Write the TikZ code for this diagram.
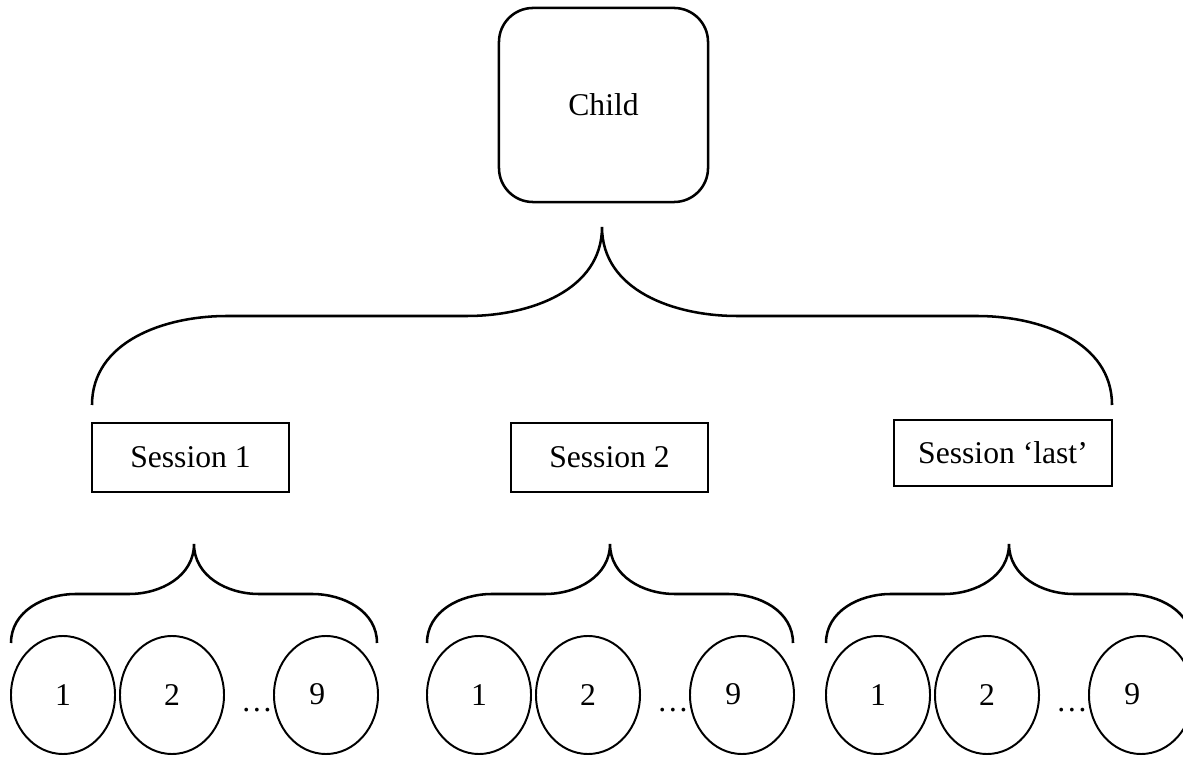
\documentclass[tikz,border=0pt]{standalone}
\usepackage{fontspec}
\setmainfont{Liberation Serif}
\usetikzlibrary{shapes.geometric}

\tikzset{
    childbox/.style={draw, line width=1.8pt, rounded corners=0.85cm, minimum width=5.225cm, minimum height=4.85cm},
    sessbox/.style={draw, line width=1.8pt, minimum width=4.925cm, minimum height=1.725cm},
    visit/.style={draw, ellipse, line width=1.4pt, inner sep=0pt, minimum width=2.6cm, minimum height=2.95cm},
    brace/.style={line width=1.8pt}
}

\begin{document}
\begin{tikzpicture}[x=0.025cm, y=0.025cm, font=\fontsize{22.5}{27}\selectfont]
    \useasboundingbox (0,0) rectangle (1183,756);

    \node[childbox] (child) at (603.5,651) {Child};
    \node[sessbox] (s1) at (190.5,298.5) {Session 1};
    \node[sessbox] (s2) at (609.5,298.5) {Session 2};
    \node[sessbox, minimum width=5.45cm, minimum height=1.65cm] (s3) at (1003,303) {Session ‘last’};

    % big brace under child
    \coordinate (T) at (602,529);
    \coordinate (L1) at (92,351);
    \coordinate (L2) at (227,440);
    \coordinate (L3) at (467,440);
    \coordinate (R3) at (737,440);
    \coordinate (R2) at (977,440);
    \coordinate (R1) at (1112,351);
    \draw[brace] (L1) to[out=90,in=180] (L2) -- (L3) to[out=0,in=270] (T)
        to[out=270,in=180] (R3) -- (R2) to[out=0,in=90] (R1);

    % one small brace and three visits per session
    \foreach \t/\n in {194/1, 610/2, 1009/3} {
        \coordinate (T\n) at (\t,212);
        \coordinate (L\n-1) at (\t-183,113);
        \coordinate (L\n-2) at (\t-118,162);
        \coordinate (L\n-3) at (\t-65,162);
        \coordinate (R\n-3) at (\t+65,162);
        \coordinate (R\n-2) at (\t+118,162);
        \coordinate (R\n-1) at (\t+183,113);
        \draw[brace] (L\n-1) to[out=90,in=180] (L\n-2) -- (L\n-3) to[out=0,in=270] (T\n)
            to[out=270,in=180] (R\n-3) -- (R\n-2) to[out=0,in=90] (R\n-1);

        \node[visit] (v\n-1) at (\t-131,61) {1};
        \node[visit] (v\n-2) at (\t-22,61) {2};
        \node[visit] (v\n-9) at (\t+132,61) {};
        \node (n\n-9) at ([xshift=-0.22cm, yshift=0.03cm]v\n-9.center) {9};
        \node (d\n) at (\t+63,46) {\ldots};
    }
\end{tikzpicture}
\end{document}
